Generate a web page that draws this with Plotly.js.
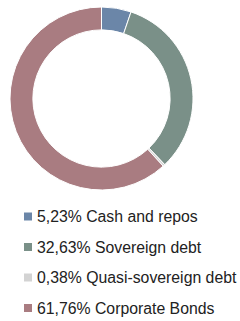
<!DOCTYPE html>
<html><head><meta charset="utf-8">
<script src="https://cdn.plot.ly/plotly-3.0.1.min.js"></script>
<style>html,body{margin:0;padding:0;background:#fff}#c{width:240px;height:321px}</style>
</head><body><div id="c"></div>
<script>
const labels = ["Cash and repos", "Sovereign debt", "Quasi-sovereign debt", "Corporate Bonds"];
const values = [5.23, 32.63, 0.38, 61.76];
const valueText = ["5,23%", "32,63%", "0,38%", "61,76%"];
const colors = ["#6b86a8", "#7a9088", "#d3d3d3", "#a97c81"];

const W = 240, H = 321;
const rowY = [216.5, 247, 277.5, 308];
const shapes = [], annotations = [];
labels.forEach((l, i) => {
  shapes.push({type: "rect", xref: "paper", yref: "paper",
    x0: 24 / W, x1: 32 / W, y0: 1 - (rowY[i] + 4) / H, y1: 1 - (rowY[i] - 4) / H,
    fillcolor: colors[i], line: {width: 0}});
  annotations.push({xref: "paper", yref: "paper", x: 35 / W, y: 1 - rowY[i] / H,
    xanchor: "left", yanchor: "middle", showarrow: false,
    text: valueText[i] + " " + l,
    font: {family: "Liberation Sans, Arial, sans-serif", size: 15.8, color: "#222"}});
});

Plotly.newPlot("c", [{
  type: "pie", labels: labels, values: values, hole: 0.75,
  sort: false, direction: "clockwise", rotation: 0,
  marker: {colors: colors, line: {color: "#fff", width: 1}},
  textinfo: "none", hoverinfo: "none",
  domain: {x: [10 / W, 193 / W], y: [1 - 190 / H, 1 - 7 / H]}
}], {
  width: W, height: H, margin: {l: 0, r: 0, t: 0, b: 0},
  showlegend: false, paper_bgcolor: "#fff",
  shapes: shapes, annotations: annotations
}, {staticPlot: true});
</script></body></html>
